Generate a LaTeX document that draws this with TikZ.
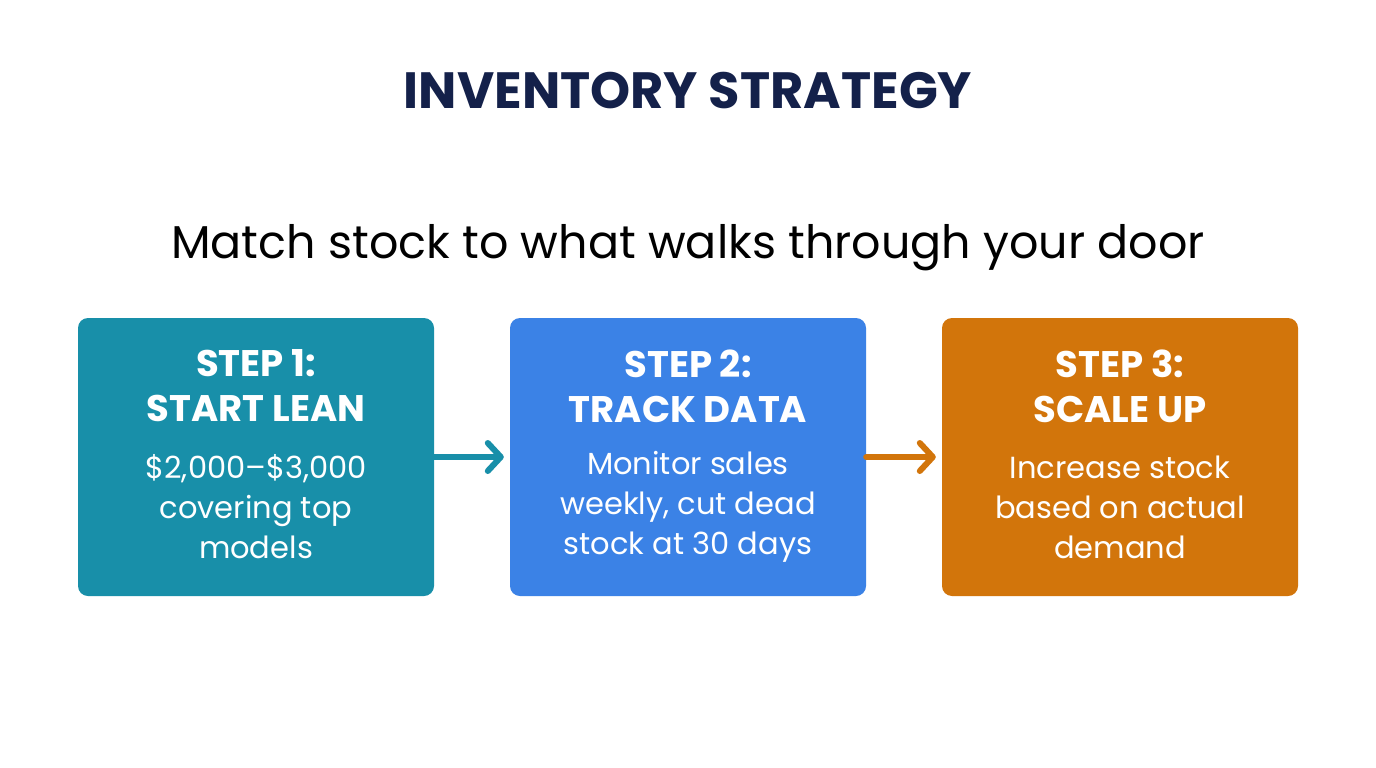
\documentclass[tikz,border=0pt]{standalone}
\usepackage{fontspec}
\setmainfont{Poppins}
\usetikzlibrary{arrows.meta}
\definecolor{navy}{HTML}{14214A}
\definecolor{cteal}{HTML}{188FA9}
\definecolor{cblue}{HTML}{3B82E6}
\definecolor{corange}{HTML}{D2750B}
\tikzset{
  stepbox/.style={rounded corners=10pt, minimum width=356pt, minimum height=278pt, inner sep=0pt, text=white, align=center},
  head/.style={font=\fontsize{37}{45}\selectfont\bfseries, text=white, align=center},
  body/.style={font=\fontsize{30.5}{40}\selectfont, text=white, align=center},
  link/.style={line width=6pt, line cap=round, -{Straight Barb[length=13pt, width=28pt, line cap=round, line join=round]}}
}
\begin{document}
\begin{tikzpicture}[x=1pt,y=-1pt]
\useasboundingbox[fill=white] (0,0) rectangle (1376,768);
\node[font=\fontsize{51}{56}\selectfont\bfseries, text=navy, anchor=base] (title) at (688,108) {INVENTORY STRATEGY};
\node[font=\fontsize{46}{50}\selectfont, text=black, anchor=base] (sub) at (688,258) {Match stock to what walks through your door};
\node[stepbox, fill=cteal] (b1) at (256,457) {};
\node[stepbox, fill=cblue] (b2) at (688,457) {};
\node[stepbox, fill=corange] (b3) at (1120,457) {};
\node[head] (h1) at (256,386) {STEP 1:\\START LEAN};
\node[head] (h2) at (688,386) {STEP 2:\\TRACK DATA};
\node[head] (h3) at (1120,386) {STEP 3:\\SCALE UP};
\node[body] (t1) at (256,507) {\$2,000–\$3,000\\covering top\\models};
\node[body] (t2) at (688,507) {Monitor sales\\weekly, cut dead\\stock at 30 days};
\node[body] (t3) at (1120,507) {Increase stock\\based on actual\\demand};
\draw[link, cteal] (b1.east) -- ([xshift=-6pt]b2.west);
\draw[link, corange] (b2.east) -- ([xshift=-6pt]b3.west);
\end{tikzpicture}
\end{document}
